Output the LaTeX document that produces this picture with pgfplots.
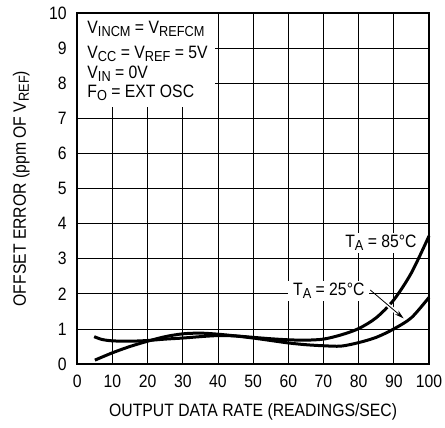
\documentclass[border=0pt]{standalone}
\usepackage{fontspec}
\setmainfont{Liberation Sans}[FakeStretch=0.88]
\usepackage{pgfplots}
\pgfplotsset{compat=1.18}
\usetikzlibrary{arrows.meta}
\newcommand\sub[1]{\raisebox{-3pt}{\fontsize{14.5}{16}\selectfont #1}}
\begin{document}
\begin{tikzpicture}[font=\fontsize{17.9}{21}\selectfont]
\begin{axis}[
 set layers,
 scale only axis, width=351.7pt, height=350.7pt,
 xmin=0,xmax=100,ymin=0,ymax=10,
 xtick={0,10,...,100}, ytick={0,1,...,10},
 grid=major, major grid style={black, line width=0.8pt},
 major tick length=0pt,
 axis line style={line width=2pt},
 /pgf/number format/assume math mode=true,
 xticklabel style={anchor=north, inner sep=0pt, yshift=-11pt},
 yticklabel style={anchor=east, inner sep=0pt, xshift=-10.5pt},
 xlabel={OUTPUT DATA RATE (READINGS/SEC)},
 ylabel={OFFSET ERROR (ppm OF V\sub{REF})},
 xlabel style={at={(axis description cs:0.5,-0.1483)}, anchor=base, inner sep=0pt},
 ylabel style={at={(axis description cs:-0.1459,0.5)}, anchor=base, inner sep=0pt},
 clip=false,
]
\coordinate (sw) at (rel axis cs:0,0);
\fill[white] (axis cs:0,7.33) rectangle (axis cs:39.2,10);
\node[anchor=base west, fill=white, inner xsep=3pt, inner ysep=2pt] at (axis cs:75.3,3.31) {T\sub{A} = 85°C};
\node[anchor=base west, fill=white, inner xsep=5pt, inner ysep=2pt] at (axis cs:59.9,1.94) {T\sub{A} = 25°C};
% T_A = 85 C
\addplot[black, line width=3pt, smooth] coordinates {
(4.8,0.78)(7,0.70)(10,0.66)(15,0.65)(20,0.67)(25,0.71)(30,0.74)(35,0.78)(40,0.81)(45,0.80)(50,0.76)(55,0.72)(60,0.69)(65,0.68)(70,0.71)(75,0.83)(80,1.01)(85,1.32)(90,1.83)(95,2.60)(100,3.65)};
% T_A = 25 C
\addplot[black, line width=3pt, smooth] coordinates {
(5,0.11)(10,0.32)(15,0.50)(20,0.65)(25,0.78)(30,0.86)(35,0.88)(40,0.85)(45,0.80)(50,0.74)(55,0.67)(60,0.60)(65,0.55)(70,0.52)(75,0.51)(80,0.61)(85,0.76)(90,1.00)(95,1.32)(100,1.90)};
\draw[white, line width=4pt, shorten <=14pt, shorten >=10pt] (axis cs:83.3,2.11) -- (axis cs:92.8,1.30);
\draw[-{Stealth[length=9pt,width=5pt]}, line width=0.8pt] (axis cs:83.3,2.11) -- (axis cs:92.8,1.30);
\node[anchor=base west, inner sep=0pt] at (axis cs:2.84,9.41) {V\sub{INCM} = V\sub{REFCM}};
\node[anchor=base west, inner sep=0pt] at (axis cs:2.84,8.70) {V\sub{CC} = V\sub{REF} = 5V};
\node[anchor=base west, inner sep=0pt] at (axis cs:2.84,8.15) {V\sub{IN} = 0V};
\node[anchor=base west, inner sep=0pt] at (axis cs:2.84,7.59) {F\sub{O} = EXT OSC};
\draw[line width=2pt] (rel axis cs:0,0) rectangle (rel axis cs:1,1);
\end{axis}
\pgfresetboundingbox
\path[use as bounding box] ([shift={(-77.3pt,-64pt)}]sw) rectangle ++(445pt,428pt);
\end{tikzpicture}
\end{document}
